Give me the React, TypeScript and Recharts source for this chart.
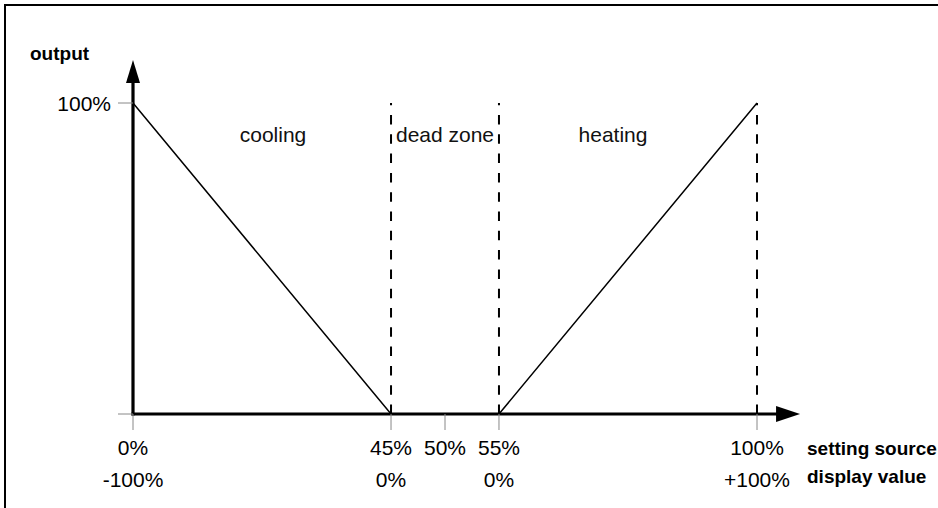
import React from "react";
import {
  LineChart,
  Line,
  XAxis,
  YAxis,
  ReferenceLine,
  ReferenceArea,
  Label,
} from "recharts";

// ---- data ----
const settingValues = [0, 45, 55, 100]; // setting source, % (curve knots)
const outputValues = [100, 0, 0, 100]; // output, %
const settingTicks = [0, 45, 50, 55, 100];
const settingTickLabels = ["0%", "45%", "50%", "55%", "100%"];
const displayTickLabels = ["-100%", "0%", "", "0%", "+100%"];
const outputTicks = [0, 100];
const outputTickLabels = ["", "100%"];
const zoneNames = ["cooling", "dead zone", "heating"];
const zoneBounds = [
  [0, 45],
  [45, 55],
  [55, 100],
];
const dashedAt = [45, 55, 100];

// schematic axis: the dead zone is drawn wider than its share of the range
const DEAD_LO = 45;
const DEAD_HI = 55;
const DEAD_SHARE = 17.3; // percent of axis length used by the dead zone
const SIDE = (100 - DEAD_SHARE) / 2;
const warp = (s: number) => {
  if (s <= DEAD_LO) return (s / DEAD_LO) * SIDE;
  if (s <= DEAD_HI) return SIDE + ((s - DEAD_LO) / (DEAD_HI - DEAD_LO)) * DEAD_SHARE;
  return SIDE + DEAD_SHARE + ((s - DEAD_HI) / (100 - DEAD_HI)) * SIDE;
};

const X_TIP = 106.9; // arrow tip of x axis (warped units)
const Y_TIP = 113.8; // arrow tip of y axis (output units)

const chartData = settingValues.map((s, i) => ({ x: warp(s), output: outputValues[i] }));
const warpedTicks = settingTicks.map(warp);

const FONT = "'Liberation Sans', Arial, sans-serif";

const makeArrow = (len: number, half: number) => (props: any) => {
  const { x1, y1, x2, y2 } = props;
  const dx = x2 - x1;
  const dy = y2 - y1;
  const d = Math.sqrt(dx * dx + dy * dy) || 1;
  const ux = dx / d;
  const uy = dy / d;
  const bx = x2 - ux * len;
  const by = y2 - uy * len;
  const nx = -uy;
  const ny = ux;
  return (
    <g>
      <line
        x1={x1 - ux * 1.5}
        y1={y1 - uy * 1.5}
        x2={bx + ux * 2}
        y2={by + uy * 2}
        stroke="#000"
        strokeWidth={3.2}
      />
      <polygon
        points={`${x2},${y2} ${bx + nx * half},${by + ny * half} ${bx - nx * half},${by - ny * half}`}
        fill="#000"
      />
    </g>
  );
};

const XTick = (props: any) => {
  const { x, y, payload } = props;
  const idx = warpedTicks.findIndex((t) => Math.abs(t - payload.value) < 1e-6);
  if (idx < 0) return null;
  return (
    <g>
      <text x={x} y={y + 23} textAnchor="middle" fontFamily={FONT} fontSize={21} fill="#000">
        {settingTickLabels[idx]}
      </text>
      <text x={x} y={y + 55} textAnchor="middle" fontFamily={FONT} fontSize={21} fill="#000">
        {displayTickLabels[idx]}
      </text>
    </g>
  );
};

const YTick = (props: any) => {
  const { x, y, payload } = props;
  const idx = outputTicks.indexOf(payload.value);
  return (
    <text x={x} y={y + 8} textAnchor="end" fontFamily={FONT} fontSize={21} fill="#000">
      {idx >= 0 ? outputTickLabels[idx] : ""}
    </text>
  );
};

const zoneShift = [11, 0, -15];

export default function App() {
  return (
    <div style={{ position: "absolute", left: 0, top: 0, width: 938, height: 508, overflow: "hidden", background: "#fff" }}>
      <div
        style={{
          position: "absolute",
          left: 4,
          top: 4,
          width: 960,
          height: 530,
          border: "2px solid #000",
        }}
      />
      <div style={{ position: "absolute", left: 0, top: 0 }}>
        <LineChart
          width={938}
          height={508}
          data={chartData}
          margin={{ top: 103, right: 181, bottom: 14, left: 73 }}
        >
          <XAxis
            dataKey="x"
            type="number"
            domain={[0, 100]}
            ticks={warpedTicks}
            interval={0}
            axisLine={false}
            tickLine={{ stroke: "#888", strokeWidth: 1 }}
            tickSize={16}
            tickMargin={2}
            height={80}
            tick={<XTick />}
          >
            <Label
              content={(p: any) => {
                const vb = p.viewBox || {};
                const lx = vb.x + vb.width + 50;
                return (
                  <g>
                    <text x={lx} y={vb.y + 41} fontFamily={FONT} fontSize={19} fontWeight={700} fill="#000">
                      setting source
                    </text>
                    <text x={lx} y={vb.y + 69} fontFamily={FONT} fontSize={19} fontWeight={700} fill="#000">
                      display value
                    </text>
                  </g>
                );
              }}
            />
          </XAxis>
          <YAxis
            type="number"
            domain={[0, 100]}
            ticks={outputTicks}
            interval={0}
            axisLine={false}
            tickLine={{ stroke: "#888", strokeWidth: 1 }}
            tickSize={15}
            tickMargin={7}
            width={60}
            tick={<YTick />}
          >
            <Label
              content={(p: any) => {
                const vb = p.viewBox || {};
                return (
                  <text x={vb.x - 43} y={vb.y - 43} fontFamily={FONT} fontSize={19} fontWeight={700} fill="#000">
                    output
                  </text>
                );
              }}
            />
          </YAxis>
          {zoneNames.map((name, i) => (
            <ReferenceArea
              key={name}
              x1={warp(zoneBounds[i][0])}
              x2={warp(zoneBounds[i][1])}
              y1={0}
              y2={100}
              fill="none"
              fillOpacity={0}
              stroke="none"
              ifOverflow="visible"
              label={(p: any) => {
                const vb = p.viewBox || {};
                return (
                  <text
                    x={vb.x + vb.width / 2 + zoneShift[i]}
                    y={vb.y + 39}
                    textAnchor="middle"
                    fontFamily={FONT}
                    fontSize={21}
                    fill="#111"
                  >
                    {name}
                  </text>
                );
              }}
            />
          ))}
          {dashedAt.map((s) => (
            <ReferenceLine
              key={s}
              segment={[
                { x: warp(s), y: 0 },
                { x: warp(s), y: 100 },
              ]}
              stroke="#000"
              strokeWidth={2}
              strokeDasharray="9.5 9.8"
              ifOverflow="visible"
            />
          ))}
          <Line
            type="linear"
            dataKey="output"
            stroke="#000"
            strokeWidth={1.5}
            dot={false}
            activeDot={false}
            isAnimationActive={false}
          />
          <ReferenceLine
            segment={[
              { x: 0, y: 0 },
              { x: X_TIP, y: 0 },
            ]}
            ifOverflow="visible"
            shape={makeArrow(24, 8)}
          />
          <ReferenceLine
            segment={[
              { x: 0, y: 0 },
              { x: 0, y: Y_TIP },
            ]}
            ifOverflow="visible"
            shape={makeArrow(23, 7)}
          />
        </LineChart>
      </div>
    </div>
  );
}
